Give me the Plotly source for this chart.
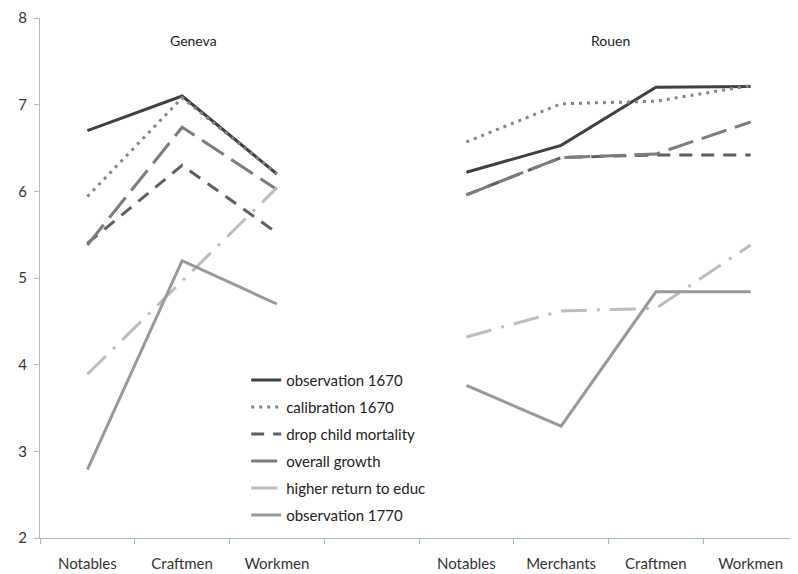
import plotly.graph_objects as go

categories = ["Notables", "Craftmen", "Workmen", "", "Notables", "Merchants", "Craftmen", "Workmen"]
observation_1670 = [6.70, 7.10, 6.20, None, 6.22, 6.53, 7.20, 7.21]
calibration_1670 = [5.94, 7.08, 6.20, None, 6.57, 7.01, 7.04, 7.22]
drop_child_mortality = [5.40, 6.30, 5.52, None, 5.96, 6.39, 6.42, 6.42]
overall_growth = [5.38, 6.74, 6.02, None, 5.96, 6.39, 6.43, 6.80]
higher_return_educ = [3.89, 4.97, 6.04, None, 4.32, 4.62, 4.65, 5.38]
observation_1770 = [2.79, 5.20, 4.70, None, 3.76, 3.29, 4.84, 4.84]
y_ticks = [2, 3, 4, 5, 6, 7, 8]
group_titles = ["Geneva", "Rouen"]

FONT = "Lato"
x = list(range(len(categories)))

series = [
    ("observation 1670", observation_1670, "#404040", "solid"),
    ("calibration 1670", calibration_1670, "#858585", "3px,5px"),
    ("drop child mortality", drop_child_mortality, "#5f5f5f", "13px,9px"),
    ("overall growth", overall_growth, "#7c7c7c", "26px,9px"),
    ("higher return to educ", higher_return_educ, "#bdbdbd", "26px,10px,3px,10px"),
    ("observation 1770", observation_1770, "#999999", "solid"),
]

fig = go.Figure()
for i, (name, vals, color, dash) in enumerate(series):
    fig.add_trace(go.Scatter(
        x=x, y=vals, name=name, mode="lines", connectgaps=False,
        legendgroup=f"g{i}",
        line=dict(color=color, width=3, dash=dash),
    ))

fig.update_layout(
    width=790, height=566,
    margin=dict(l=32, r=0, t=7, b=36),
    paper_bgcolor="white", plot_bgcolor="white",
    font=dict(family=FONT, size=15, color="#333333"),
    showlegend=True,
    legend=dict(
        x=0.272, y=0.335, xanchor="left", yanchor="top",
        bgcolor="rgba(0,0,0,0)", font=dict(size=15, color="#222222"),
        tracegroupgap=4.5, itemwidth=30,
    ),
    xaxis=dict(
        range=[-0.5, len(categories) - 0.5],
        tickmode="array", tickvals=x, ticktext=categories,
        ticks="", showgrid=False, zeroline=False,
        showline=True, linecolor="#9dbcc4", linewidth=1,
        tickfont=dict(size=15, color="#333333"),
        ticklabeloverflow="allow", ticklabelstandoff=12,
        minor=dict(tickvals=[v - 0.5 for v in x] + [len(categories) - 0.5],
                   ticks="outside", ticklen=5, tickcolor="#9dbcc4", showgrid=False),
    ),
    yaxis=dict(
        range=[2, 8], tickmode="array", tickvals=y_ticks,
        ticks="outside", ticklen=5, tickcolor="#c0b4ac",
        showgrid=False, zeroline=False,
        showline=True, linecolor="#c0b4ac", linewidth=1,
        tickfont=dict(size=15, color="#333333"),
        ticklabeloverflow="allow", ticklabelstandoff=4,
    ),
    annotations=[
        dict(text=group_titles[0], xref="x", yref="y", x=1.12, y=7.735,
             showarrow=False, font=dict(size=14, color="#222222")),
        dict(text=group_titles[1], xref="x", yref="y", x=5.52, y=7.735,
             showarrow=False, font=dict(size=14, color="#222222")),
    ],
)

fig.write_html("out.html")
